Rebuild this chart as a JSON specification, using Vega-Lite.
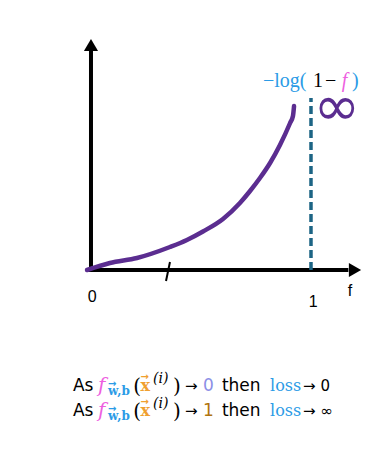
{
  "$schema": "https://vega.github.io/schema/vega-lite/v6.json",
  "width": 387,
  "height": 457,
  "autosize": {"type": "fit", "contains": "padding"},
  "padding": 0,
  "background": "white",
  "config": {"view": {"stroke": null}},
  "encoding": {
    "x": {"field": "f", "type": "quantitative", "scale": {"domain": [-0.4136, 1.3455], "nice": false, "zero": false}, "axis": null},
    "y": {"field": "loss", "type": "quantitative", "scale": {"domain": [-3.74, 5.4], "nice": false, "zero": false}, "axis": null}
  },
  "layer": [
    {
      "data": {"values": [{"f": 0, "loss": -0.04, "loss2": 4.45}]},
      "mark": {"type": "rule", "color": "black", "strokeWidth": 4},
      "encoding": {"y2": {"field": "loss2"}}
    },
    {
      "data": {"values": [{"f": -0.023, "loss": 0, "f2": 1.17}]},
      "mark": {"type": "rule", "color": "black", "strokeWidth": 4},
      "encoding": {"x2": {"field": "f2"}}
    },
    {
      "data": {"values": [{"f": 0, "loss": 4.5, "dir": "up"}, {"f": 1.2, "loss": 0, "dir": "right"}]},
      "mark": {"type": "point", "filled": true, "color": "black", "opacity": 1, "size": 200},
      "encoding": {"shape": {"field": "dir", "type": "nominal", "scale": {"domain": ["up", "right"], "range": ["triangle-up", "triangle-right"]}, "legend": null}}
    },
    {
      "data": {"values": [{"f": 0.359, "loss": 0.16, "f2": 0.341, "loss2": -0.22}]},
      "mark": {"type": "rule", "color": "black", "strokeWidth": 2},
      "encoding": {"x2": {"field": "f2"}, "y2": {"field": "loss2"}}
    },
    {
      "data": {"values": [{"f": 1, "loss": 0, "loss2": 3.44}]},
      "mark": {"type": "rule", "color": "#1d6585", "strokeWidth": 3.5, "strokeDash": [8, 4]},
      "encoding": {"y2": {"field": "loss2"}}
    },
    {
      "data": {"values": [
        {"f": -0.018, "loss": 0},
        {"f": 0.086, "loss": 0.14},
        {"f": 0.209, "loss": 0.24},
        {"f": 0.359, "loss": 0.46},
        {"f": 0.436, "loss": 0.6},
        {"f": 0.509, "loss": 0.77},
        {"f": 0.6, "loss": 1.02},
        {"f": 0.677, "loss": 1.34},
        {"f": 0.723, "loss": 1.58},
        {"f": 0.768, "loss": 1.84},
        {"f": 0.814, "loss": 2.14},
        {"f": 0.859, "loss": 2.5},
        {"f": 0.905, "loss": 2.94},
        {"f": 0.918, "loss": 3.08},
        {"f": 0.923, "loss": 3.28}
      ]},
      "mark": {"type": "line", "color": "#5b2d90", "strokeWidth": 4.5, "interpolate": "monotone", "strokeCap": "round"}
    },
    {
      "data": {"values": [
        {"f": 0.005, "loss": -0.54, "label": "0"},
        {"f": 1.01, "loss": -0.64, "label": "1"},
        {"f": 1.177, "loss": -0.42, "label": "f"}
      ]},
      "mark": {"type": "text", "font": "Liberation Sans", "fontSize": 16, "align": "center", "baseline": "middle", "color": "black"},
      "encoding": {"text": {"field": "label"}}
    },
    {
      "data": {"values": [{"f": 1.118, "loss": 3.24, "label": "∞"}]},
      "mark": {"type": "text", "font": "DejaVu Sans", "fontSize": 56, "align": "center", "baseline": "middle", "color": "#5b2d90"},
      "encoding": {"text": {"field": "label"}}
    },
    {
      "data": {"values": [
        {"f": 0.782, "loss": 3.66, "label": "−log(", "tone": "blue"},
        {"f": 1.009, "loss": 3.66, "label": "1", "tone": "ink"},
        {"f": 1.064, "loss": 3.66, "label": "−", "tone": "ink"},
        {"f": 1.186, "loss": 3.66, "label": ")", "tone": "blue"}
      ]},
      "mark": {"type": "text", "font": "Liberation Serif", "fontSize": 20, "align": "left", "baseline": "alphabetic"},
      "encoding": {
        "text": {"field": "label"},
        "color": {"field": "tone", "type": "nominal", "scale": {"domain": ["ink", "blue", "pink", "orange", "brown", "lavender"], "range": ["#000000", "#2b9be6", "#ee5fdf", "#f0a030", "#b0740f", "#8c8fe6"]}, "legend": null}
      }
    },
    {
      "data": {"values": [
        {"f": 1.14, "loss": 3.66, "label": "f", "tone": "pink"}
      ]},
      "mark": {"type": "text", "font": "Liberation Serif", "fontSize": 20, "fontStyle": "italic", "align": "left", "baseline": "alphabetic"},
      "encoding": {
        "text": {"field": "label"},
        "color": {"field": "tone", "type": "nominal", "legend": null}
      }
    },
    {
      "data": {"values": [
        {"f": 0.814, "loss": -2.42, "label": "loss", "tone": "blue"},
        {"f": 0.814, "loss": -2.92, "label": "loss", "tone": "blue"}
      ]},
      "mark": {"type": "text", "font": "DejaVu Serif", "fontSize": 16, "align": "left", "baseline": "alphabetic"},
      "encoding": {
        "text": {"field": "label"},
        "color": {"field": "tone", "type": "nominal", "legend": null}
      }
    },
    {
      "data": {"values": [
        {"f": 0.192, "loss": -2.46, "label": "(", "tone": "ink"},
        {"f": 0.373, "loss": -2.46, "label": ")", "tone": "ink"},
        {"f": 0.192, "loss": -2.96, "label": "(", "tone": "ink"},
        {"f": 0.373, "loss": -2.96, "label": ")", "tone": "ink"}
      ]},
      "mark": {"type": "text", "font": "DejaVu Serif", "fontSize": 20, "align": "left", "baseline": "alphabetic"},
      "encoding": {
        "text": {"field": "label"},
        "color": {"field": "tone", "type": "nominal", "legend": null}
      }
    },
    {
      "data": {"values": [
        {"f": 0.225, "loss": -2.42, "label": "x", "tone": "orange"},
        {"f": 0.225, "loss": -2.92, "label": "x", "tone": "orange"}
      ]},
      "mark": {"type": "text", "font": "DejaVu Serif", "fontSize": 16, "fontWeight": "bold", "align": "left", "baseline": "alphabetic"},
      "encoding": {
        "text": {"field": "label"},
        "color": {"field": "tone", "type": "nominal", "legend": null}
      }
    },
    {
      "data": {"values": [
        {"f": 0.225, "loss": -2.2, "label": "→", "tone": "orange"},
        {"f": 0.225, "loss": -2.7, "label": "→", "tone": "orange"},
        {"f": 0.077, "loss": -2.34, "label": "→", "tone": "blue"},
        {"f": 0.077, "loss": -2.84, "label": "→", "tone": "blue"}
      ]},
      "mark": {"type": "text", "font": "DejaVu Sans", "fontSize": 10, "fontWeight": "bold", "align": "left", "baseline": "alphabetic"},
      "encoding": {
        "text": {"field": "label"},
        "color": {"field": "tone", "type": "nominal", "legend": null}
      }
    },
    {
      "data": {"values": [
        {"f": 0.032, "loss": -2.44, "label": "f", "tone": "pink"},
        {"f": 0.032, "loss": -2.94, "label": "f", "tone": "pink"}
      ]},
      "mark": {"type": "text", "font": "DejaVu Serif", "fontSize": 20, "fontStyle": "italic", "align": "left", "baseline": "alphabetic"},
      "encoding": {
        "text": {"field": "label"},
        "color": {"field": "tone", "type": "nominal", "legend": null}
      }
    },
    {
      "data": {"values": [
        {"f": 0.077, "loss": -2.5, "label": "w,b", "tone": "blue"},
        {"f": 0.077, "loss": -3.0, "label": "w,b", "tone": "blue"}
      ]},
      "mark": {"type": "text", "font": "DejaVu Serif", "fontSize": 12, "fontWeight": "bold", "align": "left", "baseline": "alphabetic"},
      "encoding": {
        "text": {"field": "label"},
        "color": {"field": "tone", "type": "nominal", "legend": null}
      }
    },
    {
      "data": {"values": [
        {"f": 0.282, "loss": -2.26, "label": "(i)", "tone": "ink"},
        {"f": 0.282, "loss": -2.76, "label": "(i)", "tone": "ink"}
      ]},
      "mark": {"type": "text", "font": "DejaVu Serif", "fontSize": 14, "fontStyle": "italic", "align": "left", "baseline": "alphabetic"},
      "encoding": {
        "text": {"field": "label"},
        "color": {"field": "tone", "type": "nominal", "legend": null}
      }
    },
    {
      "data": {"values": [
        {"f": -0.082, "loss": -2.42, "label": "As", "tone": "ink"},
        {"f": 0.509, "loss": -2.42, "label": "0", "tone": "lavender"},
        {"f": 0.595, "loss": -2.42, "label": "then", "tone": "ink"},
        {"f": -0.082, "loss": -2.92, "label": "As", "tone": "ink"},
        {"f": 0.509, "loss": -2.92, "label": "1", "tone": "brown"},
        {"f": 0.595, "loss": -2.92, "label": "then", "tone": "ink"}
      ]},
      "mark": {"type": "text", "font": "DejaVu Sans", "fontSize": 17, "align": "left", "baseline": "alphabetic"},
      "encoding": {
        "text": {"field": "label"},
        "color": {"field": "tone", "type": "nominal", "legend": null}
      }
    },
    {
      "data": {"values": [
        {"f": 0.427, "loss": -2.42, "label": "→", "tone": "ink"},
        {"f": 0.964, "loss": -2.42, "label": "→ 0", "tone": "ink"},
        {"f": 0.427, "loss": -2.92, "label": "→", "tone": "ink"},
        {"f": 0.964, "loss": -2.92, "label": "→ ∞", "tone": "ink"}
      ]},
      "mark": {"type": "text", "font": "DejaVu Sans", "fontSize": 15, "align": "left", "baseline": "alphabetic"},
      "encoding": {
        "text": {"field": "label"},
        "color": {"field": "tone", "type": "nominal", "legend": null}
      }
    }
  ]
}
